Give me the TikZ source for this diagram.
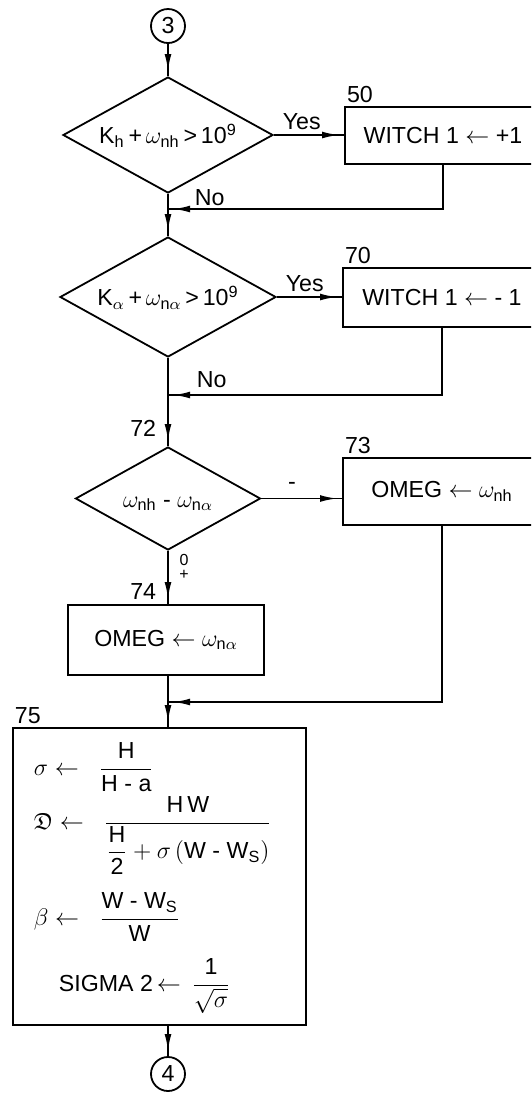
\documentclass[tikz,border=0pt]{standalone}
\usepackage{amsmath,amssymb}
\usepackage{fontspec}
\setmainfont{Liberation Sans}
\setsansfont{Liberation Sans}
\usetikzlibrary{arrows.meta,shapes.geometric,decorations.markings}

% text that does not widen its node
\newcommand{\nosize}[1]{\smash{\makebox[0pt]{\raisebox{-0.38em}{#1}}}}
\newcommand{\hy}{\ \text{-}\ }

\begin{document}
\begin{tikzpicture}[x=0.5pt, y=-0.5pt, line width=0.9pt,
  font=\fontsize{11.6}{13}\selectfont,
  connector/.style={draw, circle, minimum size=17pt, inner sep=0pt},
  decision/.style={draw, diamond, inner sep=0pt},
  process/.style={draw, rectangle, inner sep=0pt},
  stepno/.style={anchor=south west, inner sep=1pt},
  formula/.style={anchor=base west, inner sep=0pt},
  flow/.style={postaction={decorate}, decoration={markings,
    mark=at position -2.5pt with {\arrow{Latex[length=8.5pt,width=3.4pt]}}}}]

\useasboundingbox (0,0) rectangle (531,1093);
\clip (0,0) rectangle (531,1093);

%% =============== Entry and first test ===============
\node[connector] (in3) at (168,26) {3};

\node[decision, minimum width=105pt, minimum height=58pt] (test1) at (168,135)
  {\nosize{K$_\mathrm{h}$\,+\,$\omega_\mathrm{nh}$\,>\,10$^\mathrm{9}$}};
\node[process, minimum width=98pt, minimum height=28.5pt] (set50) at (443,135.5)
  {WITCH 1 $\leftarrow$ +1};
\node[stepno] at (set50.north west) {50};
\coordinate (j1) at (168,209);

\draw[flow] (in3) -- (test1);
\draw[flow] (test1.east) -- (test1.east -| set50.west);
\node[anchor=south west, inner sep=2pt] at ([xshift=2pt]test1.east) {Yes};
\draw (test1.south) -- (j1);
\draw[flow] (set50.south) |- (j1);
\node[anchor=south west, inner sep=1pt] at ([xshift=12pt]j1) {No};

%% =============== Second test ===============
\node[decision, minimum width=108pt, minimum height=60pt] (test2) at (168,297)
  {\nosize{K$_\alpha$\,+\,$\omega_{\mathrm{n}\alpha}$\,>\,10$^\mathrm{9}$}};
\node[process, minimum width=99pt, minimum height=29.5pt] (set70) at (442,297.5)
  {WITCH 1 $\leftarrow$ - 1};
\node[stepno] at (set70.north west) {70};
\coordinate (j2) at (168,395);

\draw[flow] (j1) -- (test2.north);
\draw[flow] (test2.east) -- (test2.east -| set70.west);
\node[anchor=south west, inner sep=2pt] at ([xshift=2pt]test2.east) {Yes};
\draw (test2.south) -- (j2);
\draw[flow] (set70.south) |- (j2);
\node[anchor=south west, inner sep=3pt] at ([xshift=11pt]j2) {No};

%% =============== Frequency choice ===============
\node[decision, minimum width=92.5pt, minimum height=51.5pt] (test3) at (168,498.5)
  {\nosize{$\omega_\mathrm{nh}$ - $\omega_{\mathrm{n}\alpha}$}};
\node[process, minimum width=99pt, minimum height=33.5pt] (set73) at (442,491.5)
  {OMEG $\leftarrow$ $\omega_\mathrm{nh}$};
\node[stepno] at (set73.north west) {73};
\node[process, minimum width=98pt, minimum height=35pt] (set74) at (166,640)
  {OMEG $\leftarrow$ $\omega_{\mathrm{n}\alpha}$};
\coordinate (j3) at (168,702);

\draw[flow] (j2) -- (test3.north);
\node[anchor=east, inner sep=1pt] (lab72) at (159,428) {72};
\draw[flow] (test3.east) -- (test3.east -| set73.west);
\node (minus) at (292,486) {-};
\draw[flow] (test3.south) -- (test3.south |- set74.north);
\node[font=\footnotesize, align=center, inner sep=0pt] (sign) at (184,567)
  {\shortstack{0\\[-1pt]+}};
\node[anchor=east, inner sep=1pt] (lab74) at (159,592) {74};
\draw (set74.south -| j3) -- (j3);
\draw[flow] (set73.south) |- (j3);

%% =============== Box 75: derived quantities ===============
\node[process, minimum width=146.5pt, minimum height=148.5pt] (set75) at (159.5,876.5) {};
\node[stepno] at (set75.north west) {75};
\draw[flow] (j3) -- (j3 |- set75.north);

\node[formula] (sigma) at (33,775)
  {$\sigma \leftarrow\;\; \dfrac{\mathrm{H}}{\mathrm{H}\hy\mathrm{a}}$};
\node[formula] (bigd) at (33,829)
  {$\mathfrak{D} \leftarrow\;\; \dfrac{\mathrm{H\,W}}{\dfrac{\mathrm{H}}{\mathrm{2}}+\sigma\,(\mathrm{W}\hy\mathrm{W_S})}$};
\node[formula] (beta) at (33,925)
  {$\beta \leftarrow\;\; \dfrac{\mathrm{W}\hy\mathrm{W_S}}{\mathrm{W}}$};
\node[formula] (sig2) at (58,991)
  {SIGMA 2\,$\leftarrow\,\dfrac{\mathrm{1}}{\sqrt{\sigma}}$};

%% =============== Exit ===============
\node[connector] (out4) at (168,1074) {4};
\draw[flow] (out4 |- set75.south) -- (out4);

\end{tikzpicture}
\end{document}
